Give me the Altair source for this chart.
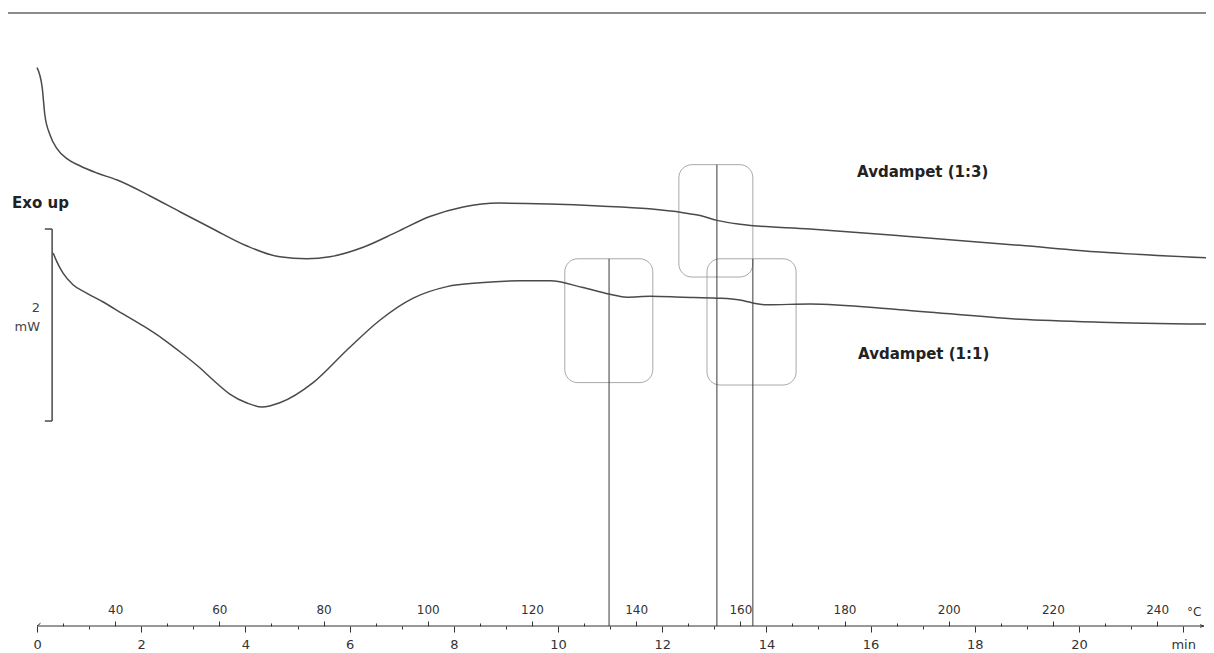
import altair as alt
import pandas as pd

# ---- DSC curves: time (min) vs heat flow (mW, curves offset as plotted) ----
T13_TIME = [0.00, 0.10, 0.15, 0.25, 0.38, 0.58, 0.83, 1.15, 1.54, 2.17, 2.75, 3.38, 4.03, 4.66, 5.18,
            5.62, 6.26, 6.91, 7.54, 8.18, 8.87, 9.83, 10.79, 11.75, 12.40, 12.73, 13.05, 13.49,
            14.84, 16.56, 18.87, 20.40, 22.44]
T13_HF = [3.68, 3.47, 3.19, 2.98, 2.84, 2.73, 2.656, 2.583, 2.51, 2.344, 2.177, 2.00, 1.823, 1.71, 1.69,
          1.71, 1.81, 1.97, 2.13, 2.23, 2.27, 2.26, 2.24, 2.21, 2.17, 2.14, 2.09, 2.05,
          2.00, 1.93, 1.83, 1.76, 1.70]

T11_TIME = [0.31, 0.38, 0.50, 0.69, 0.96, 1.27, 1.65, 2.04, 2.42, 2.75, 3.13, 3.38, 3.70, 4.03, 4.32,
            4.66, 5.30, 5.95, 6.58, 7.22, 7.87, 8.50, 9.27, 9.85, 10.48, 11.00, 11.32, 11.77,
            12.40, 13.05, 13.49, 13.74, 14.01, 14.84, 16.56, 18.87, 20.40, 22.44]
T11_HF = [1.75, 1.66, 1.54, 1.42, 1.33, 1.24, 1.115, 0.99, 0.854, 0.719, 0.552, 0.427, 0.281, 0.188,
          0.146, 0.19, 0.40, 0.74, 1.05, 1.28, 1.40, 1.44, 1.46, 1.46, 1.39, 1.32, 1.29, 1.30,
          1.29, 1.28, 1.26, 1.23, 1.21, 1.22, 1.16, 1.06, 1.03, 1.01]

# ---- glass-transition evaluation boxes and onset lines ----
BOX_T1 = [10.13, 12.32, 12.86]
BOX_T2 = [11.82, 13.74, 14.57]
BOX_TOP = [1.69, 2.67, 1.69]
BOX_BOTTOM = [0.40, 1.50, 0.375]
ONSET_T = [10.98, 13.05, 13.74]
ONSET_TOP = [1.69, 2.67, 1.69]

# ---- labels ----
SERIES_NAMES = ["Avdampet  (1:3)", "Avdampet  (1:1)"]
SERIES_LABEL_T = [17.0, 17.02]
SERIES_LABEL_HF = [2.59, 0.70]

# ---- axes ----
TIME_TICKS = list(range(0, 23))
TEMP_TICKS = list(range(30, 250, 10))
START_TEMP = 25
RATE = 10  # K/min
TEMP_POS = [(T - START_TEMP) / RATE for T in TEMP_TICKS]
DEGC_POS = 22.2

X_DOMAIN = [-0.557, 22.438]
Y_DOMAIN = [-2.135, 4.302]
SCALE_BAR_T = 0.29
SCALE_BAR_CAP_T = 0.15
SCALE_BAR_HF = [0, 2]
TOP_LINE_HF = 4.25

xs = alt.Scale(domain=X_DOMAIN, nice=False, zero=False)
ys = alt.Scale(domain=Y_DOMAIN, nice=False, zero=False)

FONT = "DejaVu Sans"
DARK = "#333333"

curves = pd.DataFrame({
    "t": T13_TIME + T11_TIME,
    "hf": T13_HF + T11_HF,
    "series": [SERIES_NAMES[0]] * len(T13_TIME) + [SERIES_NAMES[1]] * len(T11_TIME),
})

time_axis = alt.Axis(
    values=TIME_TICKS, orient="bottom", domain=False, grid=False, title=None,
    tickColor=DARK, tickWidth=1,
    tickSize={"condition": {"test": "datum.value % 2 === 0", "value": 6}, "value": 3},
    labelExpr="datum.value === 22 ? 'min' : (datum.value % 2 === 0 ? datum.label : '')",
    labelFont=FONT, labelFontSize=13, labelColor=DARK, labelPadding=6,
    labelOverlap=False, labelFlush=False,
)

temp_axis = alt.Axis(
    values=TEMP_POS + [DEGC_POS], orient="top", offset=-618, domain=False, grid=False, title=None,
    tickColor=DARK, tickWidth=1,
    tickSize={"condition": {"test": "round(datum.value*10+25) % 20 === 0", "value": 5}, "value": 3},
    tickOpacity={"condition": {"test": "datum.value > 22", "value": 0}, "value": 1},
    labelExpr="datum.value > 22 ? '°C' : (round(datum.value*10+25) % 20 === 0 ? format(round(datum.value*10+25), 'd') : '')",
    labelFont=FONT, labelFontSize=12, labelColor=DARK, labelPadding=5,
    labelOverlap=False, labelFlush=False,
)

curve_layer = alt.Chart(curves).mark_line(
    interpolate="monotone", color="#4a4a4a", strokeWidth=1.5
).encode(
    x=alt.X("t:Q", scale=xs, axis=time_axis),
    y=alt.Y("hf:Q", scale=ys, axis=None),
    detail="series:N",
)

boxes = pd.DataFrame({"t1": BOX_T1, "t2": BOX_T2, "top": BOX_TOP, "bottom": BOX_BOTTOM})
box_layer = alt.Chart(boxes).mark_rect(
    filled=False, stroke="#a8a8a8", strokeWidth=1, cornerRadius=13
).encode(
    x=alt.X("t1:Q", scale=xs, axis=None), x2="t2:Q",
    y=alt.Y("top:Q", scale=ys, axis=None), y2="bottom:Q",
)

onsets = pd.DataFrame({"t": ONSET_T, "top": ONSET_TOP, "bottom": [Y_DOMAIN[0]] * len(ONSET_T)})
onset_layer = alt.Chart(onsets).mark_rule(color="#3a3a3a", strokeWidth=1).encode(
    x=alt.X("t:Q", scale=xs, axis=temp_axis),
    y=alt.Y("top:Q", scale=ys, axis=None), y2="bottom:Q",
)

# time axis baseline
baseline = pd.DataFrame({"t": [0.0], "t2": [22.38], "hf": [Y_DOMAIN[0]]})
baseline_layer = alt.Chart(baseline).mark_rule(color=DARK, strokeWidth=1).encode(
    x=alt.X("t:Q", scale=xs, axis=None), x2="t2:Q",
    y=alt.Y("hf:Q", scale=ys, axis=None),
)
arrow_layer = alt.Chart(pd.DataFrame({"t": [22.40], "hf": [Y_DOMAIN[0]]})).mark_point(
    shape="M-1,-0.32L0,0L-1,0.32", filled=False, stroke=DARK, strokeWidth=1, size=64, opacity=1
).encode(x=alt.X("t:Q", scale=xs, axis=None), y=alt.Y("hf:Q", scale=ys, axis=None))
slash_layer = alt.Chart(pd.DataFrame({"t": [0.0], "hf": [Y_DOMAIN[0]]})).mark_point(
    shape="M0,0L1,-0.8", filled=False, stroke=DARK, strokeWidth=1, size=49, opacity=1
).encode(x=alt.X("t:Q", scale=xs, axis=None), y=alt.Y("hf:Q", scale=ys, axis=None))

# top frame line
top_line = pd.DataFrame({"t": [X_DOMAIN[0]], "t2": [X_DOMAIN[1]], "hf": [TOP_LINE_HF]})
top_layer = alt.Chart(top_line).mark_rule(color="#8c8c8c", strokeWidth=2).encode(
    x=alt.X("t:Q", scale=xs, axis=None), x2="t2:Q",
    y=alt.Y("hf:Q", scale=ys, axis=None),
)

# 2 mW scale bar
bar = pd.DataFrame({"t": [SCALE_BAR_T], "lo": [SCALE_BAR_HF[0]], "hi": [SCALE_BAR_HF[1]]})
bar_layer = alt.Chart(bar).mark_rule(color="#555555", strokeWidth=1.6).encode(
    x=alt.X("t:Q", scale=xs, axis=None),
    y=alt.Y("lo:Q", scale=ys, axis=None), y2="hi:Q",
)
caps = pd.DataFrame({"t": [SCALE_BAR_CAP_T] * 2, "t2": [SCALE_BAR_T] * 2, "hf": SCALE_BAR_HF})
caps_layer = alt.Chart(caps).mark_rule(color="#555555", strokeWidth=1.6).encode(
    x=alt.X("t:Q", scale=xs, axis=None), x2="t2:Q",
    y=alt.Y("hf:Q", scale=ys, axis=None),
)
bar_text = pd.DataFrame({"t": [0.06, 0.06], "hf": [1.18, 0.98], "txt": ["2", "mW"]})
bar_text_layer = alt.Chart(bar_text).mark_text(
    align="right", baseline="middle", font=FONT, fontSize=13, color="#444444"
).encode(
    x=alt.X("t:Q", scale=xs, axis=None), y=alt.Y("hf:Q", scale=ys, axis=None), text="txt:N"
)

exo = pd.DataFrame({"t": [-0.48], "hf": [2.27], "txt": ["Exo   up"]})
exo_layer = alt.Chart(exo).mark_text(
    align="left", baseline="middle", font=FONT, fontSize=15, fontWeight="bold", color="#222222"
).encode(
    x=alt.X("t:Q", scale=xs, axis=None), y=alt.Y("hf:Q", scale=ys, axis=None), text="txt:N"
)

names = pd.DataFrame({"t": SERIES_LABEL_T, "hf": SERIES_LABEL_HF, "txt": SERIES_NAMES})
names_layer = alt.Chart(names).mark_text(
    align="center", baseline="middle", font=FONT, fontSize=15, fontWeight="bold", color="#222222"
).encode(
    x=alt.X("t:Q", scale=xs, axis=None), y=alt.Y("hf:Q", scale=ys, axis=None), text="txt:N"
)

chart = alt.layer(
    top_layer, box_layer, onset_layer, curve_layer, baseline_layer, arrow_layer, slash_layer,
    bar_layer, caps_layer, bar_text_layer, exo_layer, names_layer,
).resolve_axis(x="independent").properties(
    width=1198, height=618,
    padding={"left": 0, "top": 0, "right": 0, "bottom": 27},
    autosize=alt.AutoSizeParams(type="none"),
    background="white",
).configure_view(stroke=None)

chart.save("out.html", embed_options={"renderer": "svg", "actions": False})
